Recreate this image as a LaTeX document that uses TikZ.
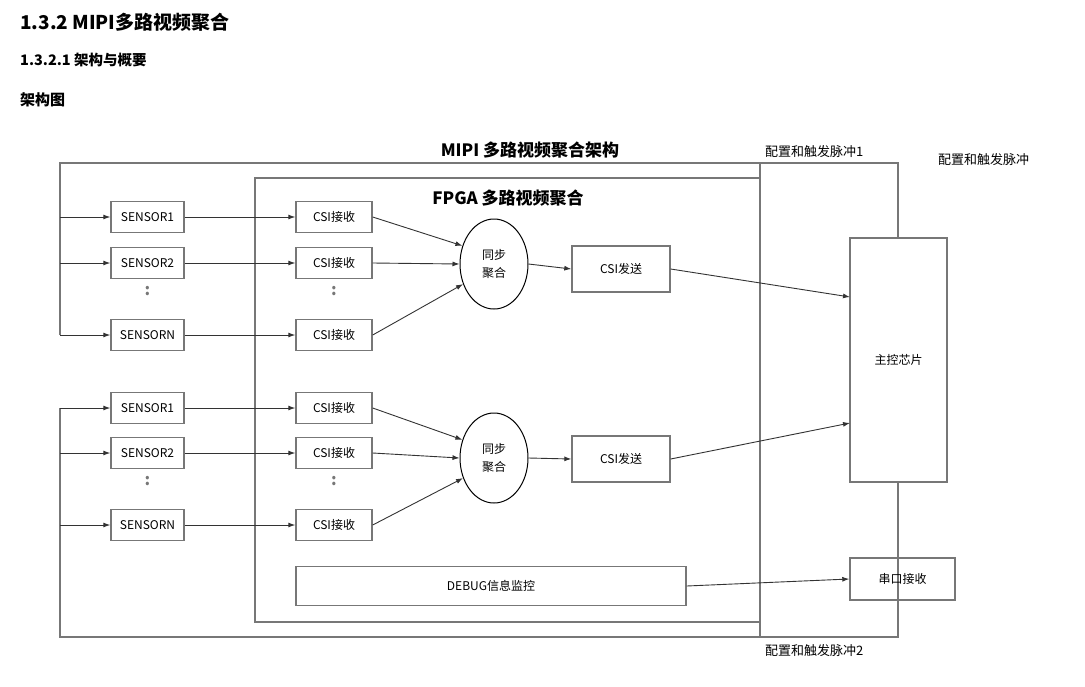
\documentclass[tikz,border=0pt]{standalone}
\usepackage{fontspec}
\setmainfont{Noto Sans CJK SC}
\usetikzlibrary{arrows.meta,shapes.geometric}
\definecolor{bd}{HTML}{777777}
\begin{document}
\begin{tikzpicture}[x=1pt,y=-1pt,
 box/.style={draw=bd,line width=1.4pt,minimum height=31pt,inner sep=0pt,font=\fontsize{12}{14}\selectfont},
 sen/.style={box,minimum width=73pt},
 csi/.style={box,minimum width=76pt},
 tx/.style={box,minimum width=98pt,minimum height=46pt},
 ell/.style={draw=black,line width=1pt,ellipse,minimum width=68pt,minimum height=90pt,inner sep=0pt,font=\fontsize{12}{14}\selectfont,align=center},
 ar/.style={-{Latex[length=7pt,width=5pt]},line width=0.9pt,draw=black!80},
 bus/.style={line width=1.4pt,draw=bd},
 dots/.style={font=\bfseries\fontsize{16}{18}\selectfont,inner sep=0pt,text=bd},
 lab/.style={font=\fontsize{13}{15}\selectfont,anchor=west,inner sep=0pt}]
\useasboundingbox (0,0) rectangle (1085,686);
\node[anchor=west,font=\bfseries\fontsize{19}{22}\selectfont,inner sep=0] (h1) at (20,22) {1.3.2 MIPI多路视频聚合};
\node[anchor=west,font=\bfseries\fontsize{14.5}{17}\selectfont,inner sep=0] (h2) at (20,60) {1.3.2.1 架构与概要};
\node[anchor=west,font=\bfseries\fontsize{15}{17}\selectfont,inner sep=0] (h3) at (20,100) {架构图};
% frames
\draw[bus] (60,335) -- (60,163) -- (898,163) -- (898,637) -- (60,637) -- (60,408);
\draw[bus] (760,163) -- (760,637);
\draw[bus] (255,178) rectangle (760,622);
\node[font=\bfseries\fontsize{17}{20}\selectfont] (t1) at (530,150) {MIPI 多路视频聚合架构};
\node[font=\bfseries\fontsize{17}{20}\selectfont] (t2) at (508,198) {FPGA 多路视频聚合};
\node[lab] (l1) at (765,152) {配置和触发脉冲1};
\node[lab] (l2) at (938,160) {配置和触发脉冲};
\node[lab] (l3) at (765,651) {配置和触发脉冲2};
\foreach \g/\ya/\yb/\yc in {a/217/263/335,b/408/453/525}{
 \node[sen] (s1\g) at (147.5,\ya) {SENSOR1};
 \node[sen] (s2\g) at (147.5,\yb) {SENSOR2};
 \node[sen] (sn\g) at (147.5,\yc) {SENSORN};
 \node[csi] (r1\g) at (334,\ya) {CSI接收};
 \node[csi] (r2\g) at (334,\yb) {CSI接收};
 \node[csi] (rn\g) at (334,\yc) {CSI接收};
 \node[dots] (d1\g) at (147.5,\yb+28) {:};
 \node[dots] (d2\g) at (334,\yb+28) {:};
 \foreach \n in {1,2,n}{
  \draw[ar] (60,0 |- s\n\g.west) -- (s\n\g.west);
  \draw[ar] (s\n\g.east) -- (r\n\g.west);
 }
}
\node[ell] (e1) at (494,264) {同步\\[4pt]聚合};
\node[ell] (e2) at (494,458) {同步\\[4pt]聚合};
\node[tx] (x1) at (621,269) {CSI发送};
\node[tx] (x2) at (621,459) {CSI发送};
\draw[ar] (r1a.east) -- (e1.150);
\draw[ar] (r2a.east) -- (e1.west);
\draw[ar] (rna.east) -- (e1.213);
\draw[ar] (r1b.east) -- (e2.150);
\draw[ar] (r2b.east) -- (e2.west);
\draw[ar] (rnb.east) -- (e2.213);
\draw[ar] (e1.east) -- (x1.west);
\draw[ar] (e2.east) -- (x2.west);
\node[box,fill=white,minimum width=97pt,minimum height=244pt] (chip) at (898.5,360) {主控芯片};
\node[box,minimum width=105pt,minimum height=42pt] (uart) at (902.5,579) {串口接收};
\node[box,minimum width=390pt,minimum height=39pt] (dbg) at (491,586) {DEBUG信息监控};
\coordinate (p1) at (850,297);
\coordinate (p2) at (850,423);
\draw[ar] (x1.east) -- (p1);
\draw[ar] (x2.east) -- (p2);
\draw[ar] (dbg.east) -- (uart.west);
\end{tikzpicture}
\end{document}
